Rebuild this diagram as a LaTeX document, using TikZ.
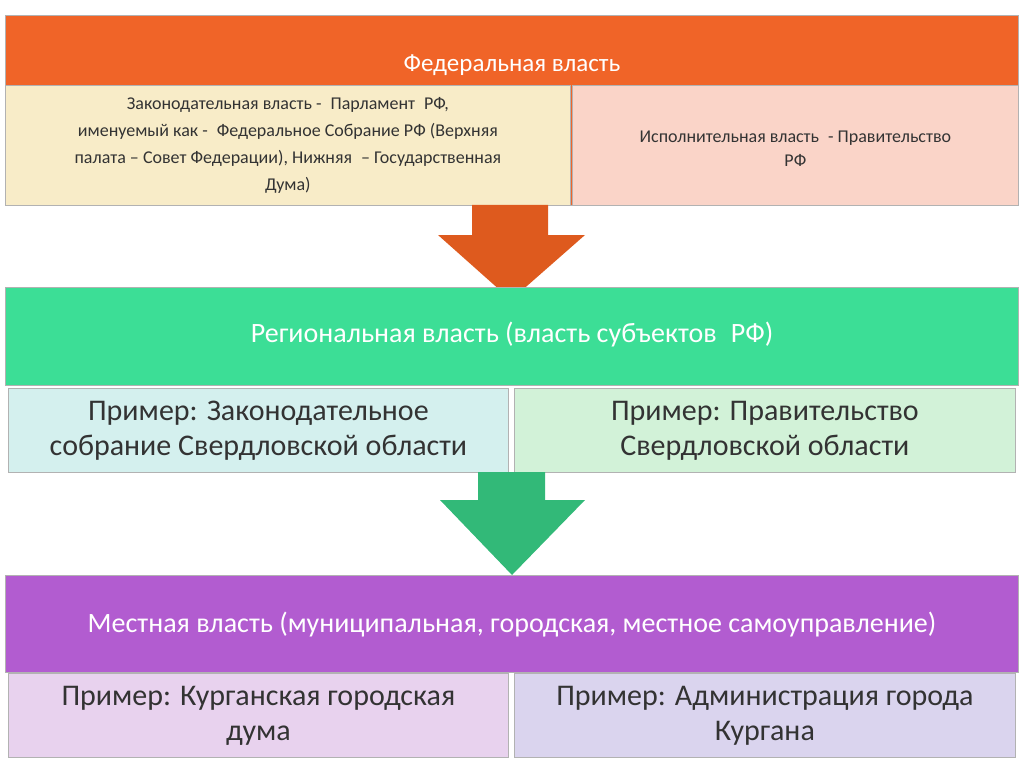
\documentclass[tikz,border=0pt]{standalone}
\usepackage{fontspec}
\setmainfont{Carlito}
\definecolor{fedorange}{RGB}{240,100,40}
\definecolor{fedleft}{RGB}{248,236,200}
\definecolor{fedright}{RGB}{250,212,200}
\definecolor{reggreen}{RGB}{60,222,150}
\definecolor{regleft}{RGB}{212,240,238}
\definecolor{regright}{RGB}{210,242,216}
\definecolor{locpurple}{RGB}{178,92,208}
\definecolor{locleft}{RGB}{232,210,238}
\definecolor{locright}{RGB}{218,212,238}
\definecolor{arrorange}{RGB}{222,90,30}
\definecolor{arrgreen}{RGB}{50,185,120}
\tikzset{every picture/.style={line width=0.75pt}}

\begin{document}
\begin{tikzpicture}[x=1pt,y=-1pt,
  box/.style={draw=gray!60, inner sep=0pt, anchor=north west},
  txt/.style={text=white, align=center}]
\useasboundingbox (0,0) rectangle (1024,767);

%Federal
\node[box, fill=fedorange, minimum width=1013pt, minimum height=190pt] (fed) at (5,15) {};
\node[txt, font=\fontsize{25}{30}\selectfont] (fedtitle) at (512,65) {Федеральная власть};
\node[box, fill=fedleft, minimum width=565pt, minimum height=120pt] (fedleg) at (5,85) {};
\node[align=center, font=\fontsize{18}{27}\selectfont, text=black!80] at (fedleg.center)
  {Законодательная власть -\enspace Парламент\enspace РФ,\\
   именуемый как -\enspace Федеральное Собрание РФ (Верхняя\\
   палата – Совет Федерации), Нижняя\enspace – Государственная\\
   Дума)};
\node[box, fill=fedright, minimum width=446pt, minimum height=120pt] (fedexec) at (572,85) {};
\node[align=center, font=\fontsize{18}{24}\selectfont, text=black!80] at ([yshift=-3pt]fedexec.center)
  {Исполнительная власть\enspace - Правительство\\ РФ};

%Arrow 1
\fill[arrorange] (472,205) -- (548,205) -- (548,235) -- (585,235) -- (511,300) -- (438,235) -- (472,235) -- cycle;

%Regional
\node[box, fill=reggreen, minimum width=1013pt, minimum height=98pt] (reg) at (5,287) {};
\node[txt, font=\fontsize{28}{32}\selectfont] (regtitle) at (512,335) {Региональная власть (власть субъектов\enspace РФ)};
\node[box, fill=regleft, minimum width=500pt, minimum height=84pt] (regleg) at (8,388) {};
\node[align=center, font=\fontsize{30}{35}\selectfont, text=black!80] at (regleg.center)
  {Пример: Законодательное\\ собрание Свердловской области};
\node[box, fill=regright, minimum width=501pt, minimum height=84pt] (regexec) at (514,388) {};
\node[align=center, font=\fontsize{30}{35}\selectfont, text=black!80] at (regexec.center)
  {Пример: Правительство\\ Свердловской области};

%Arrow 2
\fill[arrgreen] (478,472) -- (545,472) -- (545,500) -- (585,500) -- (512,575) -- (440,500) -- (478,500) -- cycle;

%Local
\node[box, fill=locpurple, minimum width=1013pt, minimum height=97pt] (loc) at (5,575) {};
\node[txt, font=\fontsize{28}{32}\selectfont] (loctitle) at (512,625) {Местная власть (муниципальная, городская, местное самоуправление)};
\node[box, fill=locleft, minimum width=500pt, minimum height=84pt] (locleg) at (8,673) {};
\node[align=center, font=\fontsize{30}{35}\selectfont, text=black!80] at (locleg.center)
  {Пример: Курганская городская\\ дума};
\node[box, fill=locright, minimum width=501pt, minimum height=84pt] (locexec) at (514,673) {};
\node[align=center, font=\fontsize{30}{35}\selectfont, text=black!80] at (locexec.center)
  {Пример: Администрация города\\ Кургана};

\end{tikzpicture}
\end{document}
